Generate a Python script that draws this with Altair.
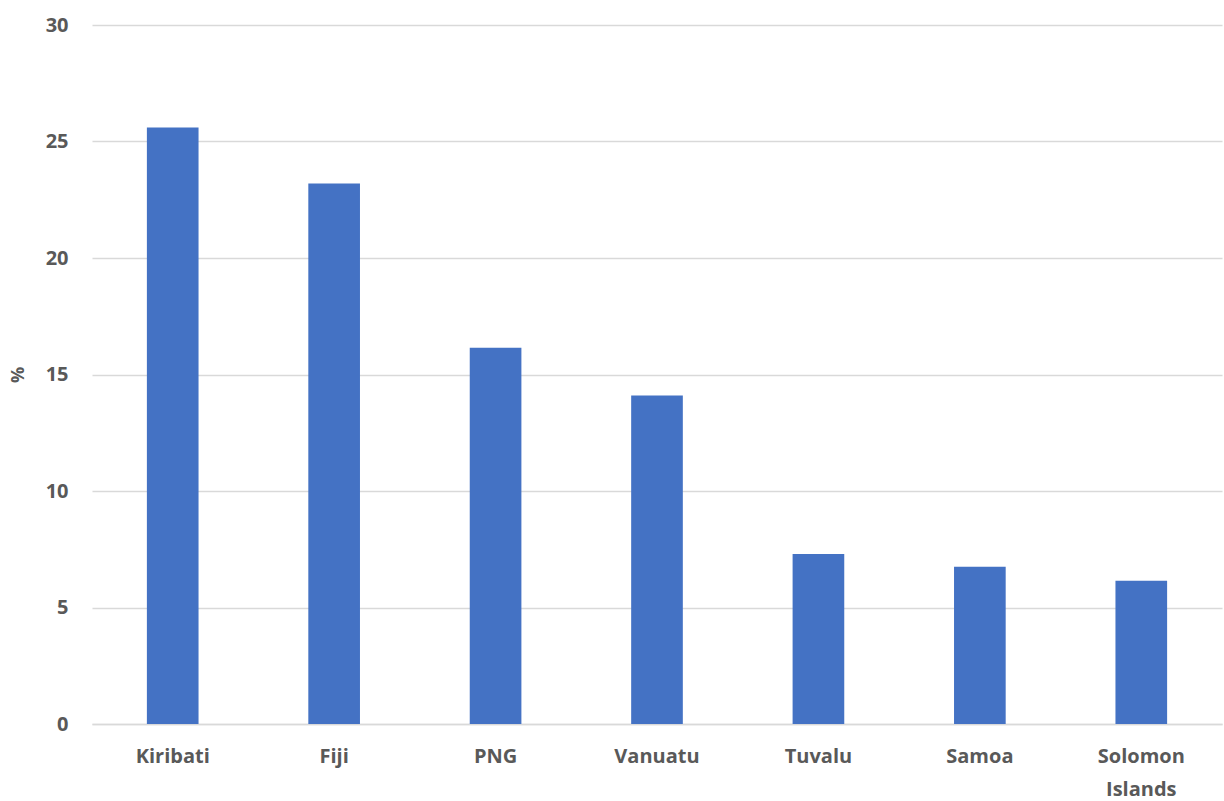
import altair as alt
import pandas as pd

countries = ["Kiribati", "Fiji", "PNG", "Vanuatu", "Tuvalu", "Samoa", "Solomon Islands"]
values = [25.6, 23.2, 16.15, 14.1, 7.3, 6.75, 6.15]

df = pd.DataFrame({"country": countries, "value": values})

font = "Open Sans"
chart = alt.Chart(df).mark_bar(color="#4472C4").encode(
    x=alt.X("country:N", sort=countries, title=None,
            scale=alt.Scale(paddingInner=0.68, paddingOuter=0.34),
            axis=alt.Axis(labelAngle=0, labelFont=font, labelFontSize=20, labelFontWeight="bold",
                          labelColor="#595959", ticks=False, domain=True, domainColor="#d9d9d9",
                          domainWidth=1.5, labelPadding=22, labelLineHeight=33, grid=False,
                          labelExpr="split(datum.label, ' ')")),
    y=alt.Y("value:Q", title="%",
            scale=alt.Scale(domain=[0, 30], nice=False),
            axis=alt.Axis(values=[0, 5, 10, 15, 20, 25, 30], labelFont=font, labelFontSize=20,
                          labelFontWeight="bold", labelColor="#595959", ticks=False, domain=False,
                          gridColor="#d9d9d9", gridWidth=1.5, labelPadding=24,
                          titleFont=font, titleFontSize=18, titleFontWeight="bold",
                          titleColor="#595959", titlePadding=18)),
).properties(
    width=1130, height=699,
    background="white",
    autosize=alt.AutoSizeParams(type="none"),
    padding={"left": 92, "top": 25, "right": 2, "bottom": 77},
).configure_view(stroke=None)

chart.save("out.html", embed_options={"renderer": "svg", "actions": False})
